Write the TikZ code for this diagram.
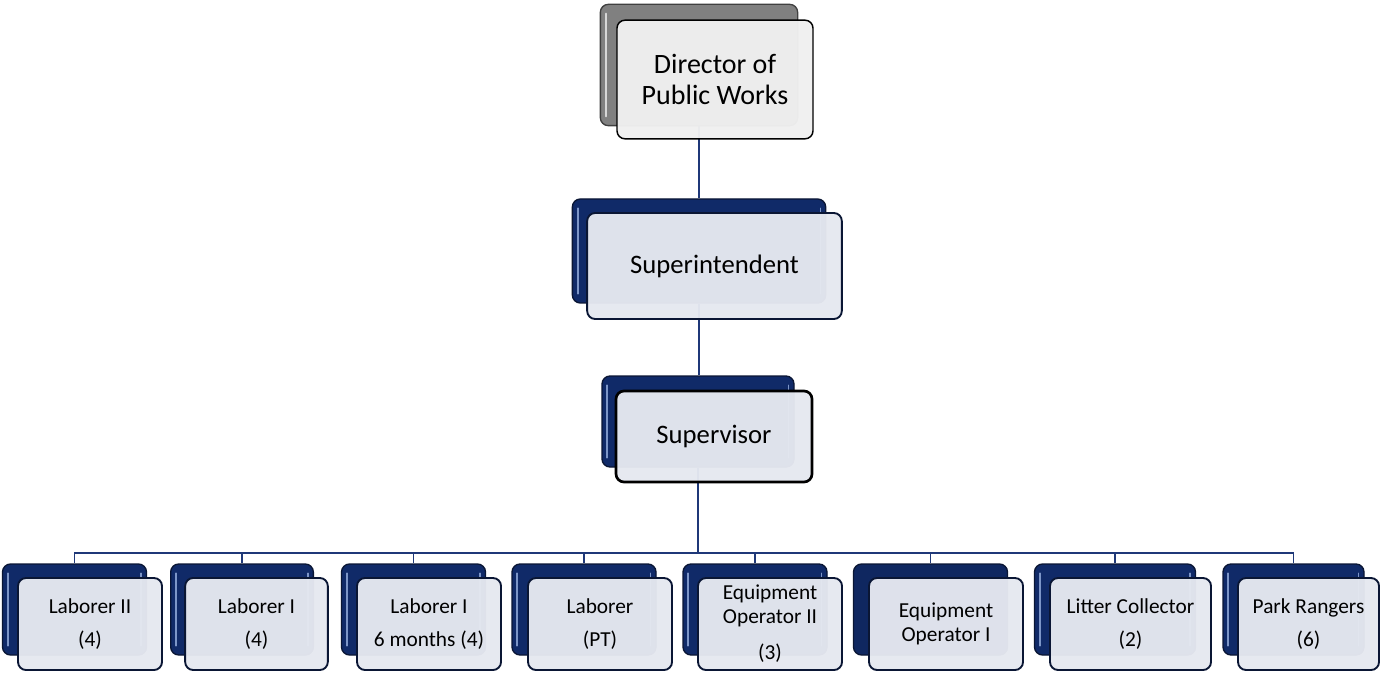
\documentclass[tikz,border=0pt]{standalone}
\usepackage{fontspec}
\setmainfont{Carlito}
\usetikzlibrary{backgrounds}
\definecolor{chartnavy}{RGB}{16,42,104}
\definecolor{navyedge}{RGB}{10,22,52}
\definecolor{glossblue}{RGB}{125,150,200}
\definecolor{cardfill}{RGB}{229,232,240}
\definecolor{greycard}{RGB}{240,240,240}
\definecolor{greyback}{RGB}{128,128,128}
\definecolor{greygloss}{RGB}{215,215,215}
\definecolor{linkblue}{RGB}{31,56,120}

\begin{document}
\begin{tikzpicture}[
    x=0.75pt,
    y=-0.75pt,
    back/.style={draw=navyedge,line width=1pt,rounded corners=6pt,fill=chartnavy,inner sep=0pt,
      path picture={
        \draw[glossblue,line width=1.6pt,line cap=round]
          ([xshift=4pt,yshift=-7pt]path picture bounding box.north west) --
          ([xshift=4pt,yshift=7pt]path picture bounding box.south west);
        \draw[glossblue,line width=1.2pt,line cap=round]
          ([xshift=-4pt,yshift=-7pt]path picture bounding box.north east) --
          ([xshift=-4pt,yshift=7pt]path picture bounding box.south east);}},
    plainback/.style={draw=navyedge,line width=1pt,rounded corners=6pt,fill=chartnavy!92!black,inner sep=0pt},
    card/.style={draw=navyedge,line width=1.4pt,rounded corners=6pt,fill=cardfill,
      fill opacity=0.97,text opacity=1,align=center,inner sep=0pt},
    rowback/.style={back,minimum width=108pt,minimum height=68.25pt},
    rowcard/.style={card,minimum width=108pt,minimum height=69pt,font=\fontsize{16}{18}\selectfont},
    link/.style={draw=linkblue,line width=1.2pt}
]
  \useasboundingbox (0,0) rectangle (1380,673);

  % top of the chart
  \node[back,fill=greyback,draw=black!75,minimum width=148pt,minimum height=91pt,
    path picture={\draw[greygloss,line width=1.6pt,line cap=round]
      ([xshift=4pt,yshift=-7pt]path picture bounding box.north west) --
      ([xshift=4pt,yshift=7pt]path picture bounding box.south west);}] (dir-back) at (699,65) {};
  \node[card,fill=greycard,draw=black,line width=1.1pt,minimum width=147pt,minimum height=89pt,
    font=\fontsize{21}{23.25}\selectfont] (dir) at (715,79.5) {Director of\\Public Works};

  \node[back,minimum width=190pt,minimum height=78pt] (sup-back) at (699,251) {};
  \node[card,minimum width=191pt,minimum height=79.5pt,
    font=\fontsize{20}{24}\selectfont] (sup) at (714.5,266) {Superintendent};

  \node[back,minimum width=144pt,minimum height=68.25pt] (sv-back) at (698,421.5) {};
  \node[card,draw=black,line width=2pt,minimum width=147pt,minimum height=68.25pt,
    font=\fontsize{20}{24}\selectfont] (sv) at (714,436.5) {Supervisor};

  % crew row
  \node[rowback] (labii-back) at (74.5,609.5) {};
  \node[rowcard] (labii) at (90,624) {Laborer II\\[6.75pt](4)};
  \node[rowback,minimum width=107pt] (labi-back) at (242,609.5) {};
  \node[rowcard,minimum width=107pt] (labi) at (256.5,624) {Laborer I\\[6.75pt](4)};
  \node[rowback] (labsix-back) at (413.5,609.5) {};
  \node[rowcard] (labsix) at (429,624) {Laborer I\\[6.75pt]6 months (4)};
  \node[rowback] (labpt-back) at (584,609.5) {};
  \node[rowcard] (labpt) at (600,624) {Laborer\\[6.75pt](PT)};
  \node[rowback] (eqii-back) at (755,609.5) {};
  \node[rowcard] (eqii) at (770,624) {Equipment\\Operator II\\[9pt](3)};
  \node[plainback,minimum width=115.5pt,minimum height=68.25pt] (eqi-back) at (930.5,609.5) {};
  \node[rowcard,minimum width=115.5pt] (eqi) at (946,624) {Equipment\\Operator I};
  \node[rowback,minimum width=120.75pt] (litter-back) at (1115,609.5) {};
  \node[rowcard,minimum width=120.75pt] (litter) at (1130.5,624) {Litter Collector\\[6.75pt](2)};
  \node[rowback,minimum width=105.75pt] (park-back) at (1293.5,609.5) {};
  \node[rowcard,minimum width=105.75pt] (park) at (1308.5,624) {Park Rangers\\[6.75pt](6)};

  % connectors behind the boxes
  \begin{scope}[on background layer]
    \coordinate (bus) at (0,553);
    \draw[link] (dir-back.south) -- (dir-back.south |- sup-back.north);
    \draw[link] (sup-back.south) -- (sup-back.south |- sv-back.north);
    \foreach \c in {labii,labi,labsix,labpt,eqii,eqi,litter,park}
      \draw[link] (sv-back.south) -- (sv-back.south |- bus) -| (\c-back.north);
  \end{scope}
\end{tikzpicture}
\end{document}
